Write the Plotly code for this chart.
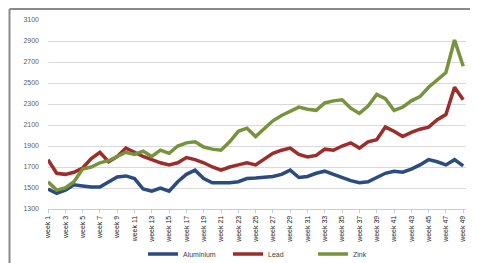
import plotly.graph_objects as go

weeks = list(range(1, 50))
tick_weeks = list(range(1, 50, 2))
tick_labels = [f"week {w}" for w in tick_weeks]
y_ticks = [1300, 1500, 1700, 1900, 2100, 2300, 2500, 2700, 2900, 3100]

aluminium = [1490, 1450, 1480, 1530, 1520, 1510, 1510, 1560, 1605, 1615,
             1590, 1490, 1470, 1500, 1470, 1560, 1630, 1670, 1590, 1550,
             1550, 1550, 1560, 1590, 1595, 1600, 1610, 1630, 1670, 1600,
             1610, 1640, 1660, 1630, 1600, 1570, 1550, 1560, 1600, 1640,
             1660, 1650, 1680, 1720, 1770, 1750, 1720, 1770, 1710]
lead = [1770, 1640, 1630, 1650, 1690, 1780, 1840, 1750, 1800, 1880,
        1840, 1800, 1770, 1740, 1720, 1740, 1790, 1770, 1740, 1700,
        1670, 1700, 1720, 1740, 1720, 1780, 1830, 1860, 1880, 1820,
        1795, 1810, 1870, 1860, 1900, 1930, 1880, 1940, 1960, 2080,
        2040, 1990, 2030, 2060, 2080, 2150, 2200, 2460, 2340]
zink = [1560, 1480, 1500, 1560, 1680, 1700, 1740, 1760, 1800, 1840,
        1820, 1850, 1800, 1860, 1830, 1900, 1930, 1940, 1890, 1870,
        1860, 1940, 2040, 2070, 1990, 2060, 2140, 2190, 2230, 2270,
        2250, 2240, 2310, 2330, 2340, 2260, 2210, 2280, 2390, 2350,
        2240, 2270, 2330, 2370, 2460, 2530, 2600, 2910, 2660]

series = [("Aluminium", aluminium, "#2B4C7E"),
          ("Lead", lead, "#9B2D2B"),
          ("Zink", zink, "#77933C")]

fig = go.Figure()
for name, vals, col in series:
    fig.add_trace(go.Scatter(x=weeks, y=vals, name=name, mode="lines",
                             line=dict(color=col, width=3.5)))

W, H = 478, 263
L, R, T, B = 48, 12, 20, 54
pw, ph = W - L - R, H - T - B

def px(x):
    return (x - L) / pw

def py(y):
    return (H - B - y) / ph

fig.update_layout(
    width=W, height=H,
    margin=dict(l=L, r=R, t=T, b=B, autoexpand=False),
    paper_bgcolor="white", plot_bgcolor="white",
    font=dict(family="Liberation Sans", size=6, color="#404040"),
    showlegend=True,
    legend=dict(orientation="h", xref="container", yref="container",
                x=143 / W, y=(H - 254) / H, xanchor="left",
                yanchor="middle", entrywidth=40, entrywidthmode="pixels",
                font=dict(size=7, color="#404040"), bgcolor="rgba(0,0,0,0)",
                itemwidth=30, tracegroupgap=0),
    xaxis=dict(range=[1, 1 + (W - R - L) / 8.65], tickmode="array",
               automargin=False,
               tickvals=tick_weeks, ticktext=tick_labels, tickangle=-90,
               showgrid=False, zeroline=False, showline=True,
               linecolor="#c4cde0", linewidth=1, ticks="outside",
               ticklen=3, tickcolor="#c4cde0",
               tickfont=dict(size=7, color="#202020")),
    yaxis=dict(range=[1300, 3100], tickmode="array", tickvals=y_ticks,
               automargin=False,
               showgrid=True, gridcolor="#d9d9d9", gridwidth=1,
               zeroline=False, showline=False, ticks="",
               ticklabelstandoff=8,
               tickfont=dict(size=7, color="#606060")),
    shapes=[
        dict(type="line", xref="paper", yref="paper",
             x0=px(9.5), x1=px(9.5), y0=py(9), y1=py(270),
             line=dict(color="#8a8a8a", width=2)),
        dict(type="line", xref="paper", yref="paper",
             x0=px(9.5), x1=px(470), y0=py(9), y1=py(9),
             line=dict(color="#8a8a8a", width=2)),
    ],
)

fig.write_html(
    "out.html",
    config={"displayModeBar": False},
    post_script="document.body.style.margin='0';"
                "document.body.style.overflow='hidden';",
)
